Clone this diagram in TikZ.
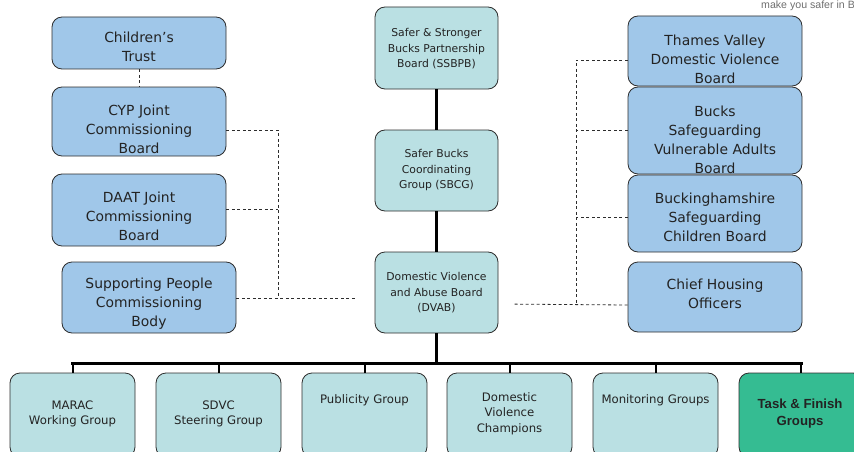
\documentclass[tikz,border=0pt]{standalone}
\usepackage{fontspec}
\setmainfont{DejaVu Sans}
\newfontfamily\arialbold{Liberation Sans}
\newfontfamily\tagfont{Liberation Sans}
\definecolor{boxblue}{RGB}{160,199,233}
\definecolor{boxteal}{RGB}{186,224,227}
\definecolor{boxgreen}{RGB}{53,188,146}
\definecolor{edgegray}{RGB}{45,45,45}
\definecolor{txtgray}{RGB}{35,35,35}
\definecolor{taggray}{RGB}{110,110,110}
\tikzset{
  x=1pt, y=1pt,
  orgbox/.style={draw=edgegray, line width=0.8pt, rounded corners=10pt, inner sep=0pt},
  bluebox/.style={orgbox, fill=boxblue, minimum width=174pt},
  tealbox/.style={orgbox, fill=boxteal},
  greenbox/.style={orgbox, fill=boxgreen},
  bigtxt/.style={align=center, text=txtgray, inner sep=0pt, font=\fontsize{13.9}{19}\selectfont},
  midtxt/.style={align=center, text=txtgray, inner sep=0pt, font=\fontsize{10.8}{15.5}\selectfont},
  lowtxt/.style={align=center, text=txtgray, inner sep=0pt, font=\fontsize{11.7}{15.7}\selectfont},
  dashline/.style={draw=edgegray, line width=0.8pt, dash pattern=on 3pt off 2.5pt},
  heavyline/.style={draw=black, line width=3pt},
  tickline/.style={draw=black, line width=2pt},
}
\begin{document}
\begin{tikzpicture}
\useasboundingbox (0,0) rectangle (854,-452);
\begin{scope}
\clip (0,0) rectangle (854,-452);
% tag text
\node[anchor=west, text=taggray, inner sep=0pt, font=\tagfont\fontsize{10.6}{11}\selectfont] (tag) at (761,-6) {make you safer in B};

% left column
\node[bluebox, minimum height=52pt] (ct) at (139,-43) {};
\node[bigtxt] (ctt) at (139,-47) {Children’s\\Trust};
\node[bluebox, minimum height=69pt] (cyp) at (139,-121.5) {};
\node[bigtxt] (cypt) at (139,-129) {CYP Joint\\Commissioning\\Board};
\node[bluebox, minimum height=72pt] (daat) at (139,-210) {};
\node[bigtxt] (daatt) at (139,-216.5) {DAAT Joint\\Commissioning\\Board};
\node[bluebox, minimum height=71pt] (sp) at (149,-297.5) {};
\node[bigtxt] (spt) at (149,-304) {Supporting People\\Commissioning\\Body};

% centre column
\node[tealbox, minimum width=123pt, minimum height=82pt] (ssbpb) at (436.5,-48) {};
\node[midtxt] (ssbpbt) at (436.5,-49) {Safer \& Stronger\\Bucks Partnership\\Board (SSBPB)};
\node[tealbox, minimum width=123pt, minimum height=81pt] (sbcg) at (436.5,-170.5) {};
\node[midtxt] (sbcgt) at (436.5,-170.5) {Safer Bucks\\Coordinating\\Group (SBCG)};
\node[tealbox, minimum width=123pt, minimum height=81pt] (dvab) at (436.5,-292.5) {};
\node[midtxt] (dvabt) at (436.5,-293) {Domestic Violence\\and Abuse Board\\(DVAB)};

% right column
\node[bluebox, minimum height=70pt] (tv) at (715,-51) {};
\node[bigtxt] (tvt) at (715,-59) {Thames Valley\\Domestic Violence\\Board};
\node[bluebox, minimum height=87pt] (bsva) at (715,-130.5) {};
\node[bigtxt] (bsvat) at (715,-140) {Bucks\\Safeguarding\\Vulnerable Adults\\Board};
\node[bluebox, minimum height=77pt] (bscb) at (715,-213.5) {};
\node[bigtxt] (bscbt) at (715,-217) {Buckinghamshire\\Safeguarding\\Children Board};
\node[bluebox, minimum height=70pt] (cho) at (715,-297) {};
\node[bigtxt] (chot) at (715,-294) {Chief Housing\\Officers};

% bottom row
\node[tealbox, minimum width=125pt, minimum height=84pt] (marac) at (72.5,-415) {};
\node[lowtxt] (maract) at (72.5,-414) {MARAC\\Working Group};
\node[tealbox, minimum width=125pt, minimum height=84pt] (sdvc) at (218.5,-415) {};
\node[lowtxt] (sdvct) at (218.5,-414) {SDVC\\Steering Group};
\node[tealbox, minimum width=125pt, minimum height=84pt] (pub) at (364.5,-415) {};
\node[lowtxt] (pubt) at (364.5,-400.7) {Publicity Group};
\node[tealbox, minimum width=125pt, minimum height=84pt] (dvc) at (509.5,-415) {};
\node[lowtxt] (dvct) at (509.5,-413.5) {Domestic\\Violence\\Champions};
\node[tealbox, minimum width=125pt, minimum height=84pt] (mon) at (655.5,-415) {};
\node[lowtxt] (mont) at (655.5,-400.7) {Monitoring Groups};
\node[greenbox, minimum width=124pt, minimum height=84pt] (tf) at (801,-415) {};
\node[align=center, text=txtgray, inner sep=0pt, font=\arialbold\bfseries\fontsize{13.2}{16.7}\selectfont] (tft) at (800,-413.3) {Task \& Finish\\Groups};

% solid hierarchy
\draw[heavyline] (ssbpb.south) -- (sbcg.north);
\draw[heavyline] (sbcg.south) -- (dvab.north);
\coordinate (bus) at (436.5,-363);
\draw[heavyline] (dvab.south) -- (bus);
\draw[heavyline, line cap=rect] (marac.north |- bus) -- (tf.north |- bus);
\foreach \n in {marac,sdvc,pub,dvc,mon,tf}
  \draw[tickline] (\n.north) -- (\n.north |- bus);

% dashed links left
\draw[dashline] (ct.south) -- (cyp.north);
\coordinate (lj) at (278,-298);
\draw[dashline] ([yshift=-8.5pt]cyp.east) -| (lj);
\draw[dashline] ([yshift=1pt]daat.east) -- ([yshift=1pt]daat.east -| lj);
\draw[dashline, shorten >=18pt] ([yshift=-0.5pt]sp.east) -- ([yshift=-5.5pt]dvab.west);

% dashed links right
\coordinate (rj) at (576,-305);
\draw[dashline] ([yshift=-9pt]tv.west) -| (rj);
\draw[dashline] (bsva.west) -- (bsva.west -| rj);
\draw[dashline] ([yshift=-3.5pt]bscb.west) -- ([yshift=-3.5pt]bscb.west -| rj);
\draw[dashline, shorten >=15pt] ([yshift=-8pt]cho.west) -- ([yshift=-11.5pt]dvab.east);
\end{scope}
\end{tikzpicture}
\end{document}
